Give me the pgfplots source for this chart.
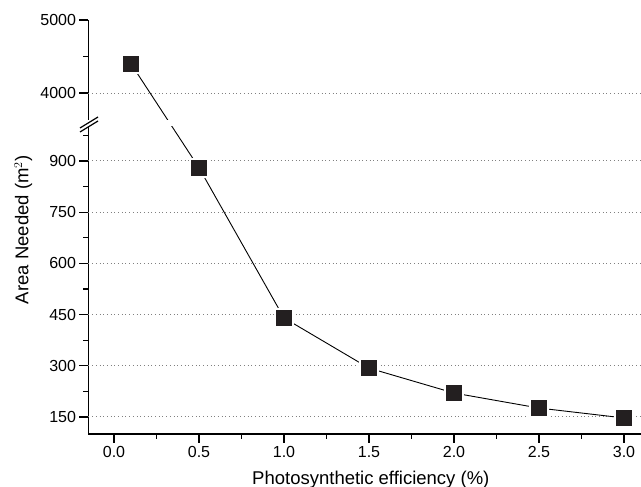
\documentclass[border=0pt]{standalone}
\usepackage{pgfplots}
\pgfplotsset{compat=1.18}
\usepackage{fontspec}
\setmainfont{Liberation Sans}
\definecolor{markfill}{HTML}{231F20}
\begin{document}
\begin{tikzpicture}
\path[use as bounding box] (0,0) rectangle (641pt,487pt);
% one axis; values above 3600 are squeezed onto the top part (broken axis)
\begin{axis}[
  at={(88.5pt,53pt)}, anchor=south west,
  scale only axis,
  width=552.5pt, height=414pt,
  xmin=-0.15, xmax=3.1,
  ymin=100, ymax=5000,
  y coord trafo/.code={\pgfmathparse{#1>2000 ? 1013.5+(#1-3600)*0.2139 : #1}},
  y coord inv trafo/.code={\pgfmathparse{#1>1005 ? 3600+(#1-1013.5)/0.2139 : #1}},
  axis x line*=bottom, axis y line*=left,
  axis line style={line width=1.2pt},
  every tick/.style={black, line width=1.2pt},
  tick align=outside,
  major tick length=9pt, minor tick length=5pt,
  xtick={0,0.5,1,1.5,2,2.5,3},
  xticklabels={0.0,0.5,1.0,1.5,2.0,2.5,3.0},
  minor xtick={0.25,0.75,1.25,1.75,2.25,2.75},
  ytick={150,300,450,600,750,900,4000,5000},
  yticklabels={150,300,450,600,750,900,4000,5000},
  minor ytick={225,375,525,675,825,975,4500},
  extra y ticks={150,300,450,600,750,900,4000},
  extra y tick labels={},
  extra y tick style={grid=major},
  grid style={gray, line width=0.9pt, dash pattern=on 0.9pt off 2.8pt},
  xticklabel style={font=\fontsize{16}{18}\selectfont},
  yticklabel style={font=\fontsize{16}{18}\selectfont},
  xlabel={Photosynthetic efficiency (\%)},
  ylabel={Area Needed (m$^2$)},
  label style={font=\fontsize{18.5}{21}\selectfont},
  xlabel style={at={(axis description cs:0.511,-0.1208)}, anchor=base},
  ylabel style={at={(axis description cs:-0.118,0.493)}, anchor=center},
]
\addplot[black, line width=0.9pt, mark=square*, mark size=9pt,
  mark options={fill=markfill, draw=white, line width=2pt}] coordinates {
  (0.1,4400) (0.5,880) (1.0,440) (1.5,293) (2.0,220) (2.5,176) (3.0,147)
};
\end{axis}
% break in the axis and the line
\fill[white] (85pt,360.5pt) rectangle (641pt,366.5pt);
\fill[white] (81pt,355.5pt) -- (97pt,365.5pt) -- (97pt,369.5pt) -- (81pt,359.5pt) -- cycle;
\draw[line width=1.2pt] (80pt,359pt) -- (98pt,370pt);
\draw[line width=1.2pt] (80pt,355pt) -- (98pt,366pt);
\end{tikzpicture}
\end{document}
